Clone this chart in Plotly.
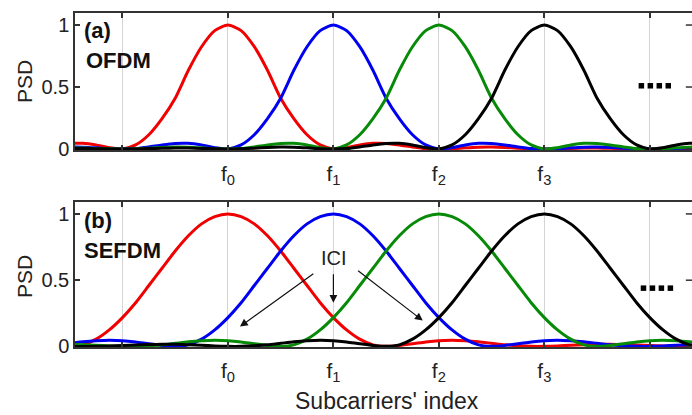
import plotly.graph_objects as go

# ---------------- data ----------------
# one-sided pulse profile: offset from the subcarrier centre (subcarrier units)
pulse_offset = [0.0, 0.125, 0.25, 0.375, 0.5, 0.625, 0.75, 0.875, 1.0,
                1.125, 1.25, 1.375, 1.5, 1.625, 1.75, 1.875, 2.0,
                2.125, 2.25, 2.375, 2.5, 2.625, 2.75, 2.875, 3.0,
                3.125, 3.25, 3.375, 3.5, 3.625, 3.75, 3.875, 4.0,
                4.125, 4.25, 4.375, 4.5]
# (a) OFDM PSD profile
ofdm_psd = [1.0, 0.955, 0.825, 0.635, 0.41, 0.245, 0.115, 0.033, 0.0,
            0.011, 0.032, 0.046, 0.045, 0.033, 0.017, 0.004, 0.0,
            0.003, 0.010, 0.015, 0.016, 0.013, 0.007, 0.002, 0.0,
            0.002, 0.005, 0.008, 0.008, 0.006, 0.004, 0.001, 0.0,
            0.001, 0.003, 0.004, 0.005]
# (b) SEFDM PSD profile
sefdm_psd = [1.0, 0.98, 0.925, 0.835, 0.72, 0.59, 0.46, 0.33, 0.218,
             0.125, 0.055, 0.012, 0.001, 0.008, 0.020, 0.034, 0.044,
             0.047, 0.043, 0.035, 0.024, 0.013, 0.005, 0.001, 0.001,
             0.004, 0.009, 0.013, 0.016, 0.016, 0.014, 0.011, 0.007,
             0.003, 0.001, 0.0, 0.001]

subcarrier_centres = [0, 1, 2, 3]
subcarrier_colors = ["#f00000", "#0000f0", "#078a07", "#000000"]

x_tick_vals = [-1, 0, 1, 2, 3, 4]
x_tick_text = ["", "f<sub>0</sub>", "f<sub>1</sub>", "f<sub>2</sub>", "f<sub>3</sub>", ""]
y_tick_vals = [0, 0.5, 1]
y_tick_text = ["0", "0.5", "1"]

dots_x_a = [3.92, 4.005, 4.09, 4.175]
dots_y_a = [0.51, 0.51, 0.51, 0.51]
dots_x_b = [3.94, 4.025, 4.11, 4.195]
dots_y_b = [0.44, 0.44, 0.44, 0.44]

# ICI arrows: (tail x, tail y, head x, head y) in panel (b) data units
ici_arrows = [(0.824, 0.556, 0.114, 0.15),
              (1.0, 0.556, 1.0, 0.33),
              (1.22, 0.58, 1.847, 0.195)]

# ---------------- figure ----------------
W, H = 692, 415
L = 75
FONT = "Liberation Sans, Arial, sans-serif"
AX = "#333333"

full_off = [-o for o in reversed(pulse_offset[1:])] + pulse_offset


def mirrored(vals):
    return list(reversed(vals[1:])) + vals


fig = go.Figure()
for profile, xa, ya in [(ofdm_psd, "x", "y"), (sefdm_psd, "x2", "y2")]:
    yv = mirrored(profile)
    for c, col in zip(subcarrier_centres, subcarrier_colors):
        fig.add_trace(go.Scatter(
            x=[c + o for o in full_off], y=yv, xaxis=xa, yaxis=ya,
            mode="lines", line=dict(color=col, width=3, shape="spline", smoothing=0.6),
            hoverinfo="skip", showlegend=False))

fig.add_trace(go.Scatter(x=dots_x_a, y=dots_y_a, xaxis="x", yaxis="y", mode="markers",
                         marker=dict(symbol="square", size=5.5, color="black"),
                         showlegend=False, hoverinfo="skip"))
fig.add_trace(go.Scatter(x=dots_x_b, y=dots_y_b, xaxis="x2", yaxis="y2", mode="markers",
                         marker=dict(symbol="square", size=5.5, color="black"),
                         showlegend=False, hoverinfo="skip"))


def py(p):
    return 1 - p / H


def px(p):
    return (p - L) / (W - L)


xcommon = dict(range=[-1.45, 4.40], tickvals=x_tick_vals, ticktext=x_tick_text,
               ticks="inside", ticklen=5, tickwidth=1.5, tickcolor=AX,
               showline=True, linecolor=AX, linewidth=1.5, mirror="ticks",
               showgrid=True, gridcolor="#d4d4d4", gridwidth=1, zeroline=False,
               tickfont=dict(family=FONT, size=21, color="#222"),
               ticklabelstandoff=4, automargin=False, fixedrange=True)
ycommon = dict(tickvals=y_tick_vals, ticktext=y_tick_text,
               ticks="inside", ticklen=5, tickwidth=1.5, tickcolor=AX,
               showline=True, linecolor=AX, linewidth=1.5,
               showgrid=False, zeroline=False,
               tickfont=dict(family=FONT, size=20, color="#222"),
               automargin=False, fixedrange=True)

fig.update_layout(
    width=W, height=H,
    margin=dict(l=L, r=0, t=0, b=0, autoexpand=False),
    paper_bgcolor="white", plot_bgcolor="white",
    xaxis=dict(xcommon, domain=[0, 1], anchor="y"),
    yaxis=dict(ycommon, domain=[py(150), py(13)], range=[-0.008, 1.097], anchor="x"),
    xaxis2=dict(xcommon, domain=[0, 1], anchor="y2"),
    yaxis2=dict(ycommon, domain=[py(347), py(202)], range=[-0.004, 1.09], anchor="x2"),
)

ann = []
txt = dict(showarrow=False, font=dict(family=FONT, size=22, color="#111"))
ann.append(dict(txt, text="<b>(a)</b>", xref="paper", yref="paper", x=px(82), y=py(31),
                xanchor="left", yanchor="middle"))
ann.append(dict(txt, text="<b>OFDM</b>", xref="paper", yref="paper", x=px(84), y=py(61),
                xanchor="left", yanchor="middle"))
ann.append(dict(txt, text="<b>(b)</b>", xref="paper", yref="paper", x=px(82), y=py(220),
                xanchor="left", yanchor="middle"))
ann.append(dict(txt, text="<b>SEFDM</b>", xref="paper", yref="paper", x=px(82), y=py(250),
                xanchor="left", yanchor="middle"))
ann.append(dict(showarrow=False, font=dict(family=FONT, size=21, color="#222"),
                text="PSD", xref="paper", yref="paper", x=px(24), y=py(81),
                xanchor="center", yanchor="middle", textangle=-90))
ann.append(dict(showarrow=False, font=dict(family=FONT, size=21, color="#222"),
                text="PSD", xref="paper", yref="paper", x=px(24), y=py(276),
                xanchor="center", yanchor="middle", textangle=-90))
ann.append(dict(showarrow=False, font=dict(family=FONT, size=23, color="#222"),
                text="Subcarriers' index", xref="paper", yref="paper", x=px(387), y=py(401),
                xanchor="center", yanchor="middle"))
ann.append(dict(showarrow=False, font=dict(family=FONT, size=20, color="#222"),
                text="ICI", xref="x2", yref="y2", x=1.01, y=0.67,
                xanchor="center", yanchor="middle"))
for (tx, ty, hx, hy) in ici_arrows:
    ann.append(dict(text="", x=hx, y=hy, ax=tx, ay=ty, xref="x2", yref="y2",
                    axref="x2", ayref="y2", showarrow=True, arrowhead=2,
                    arrowsize=1.3, arrowwidth=1.2, arrowcolor="#111"))
fig.update_layout(annotations=ann)

# mirrored y ticks on the right edge (the right spine itself lies just outside the view)
shapes = []
for yr in ["y", "y2"]:
    xr = "x domain" if yr == "y" else "x2 domain"
    for v in y_tick_vals:
        shapes.append(dict(type="line", xref=xr, yref=yr, x0=0.99, x1=1.0, y0=v, y1=v,
                           line=dict(color=AX, width=1.5)))
fig.update_layout(shapes=shapes)

fig.write_html("out.html")
